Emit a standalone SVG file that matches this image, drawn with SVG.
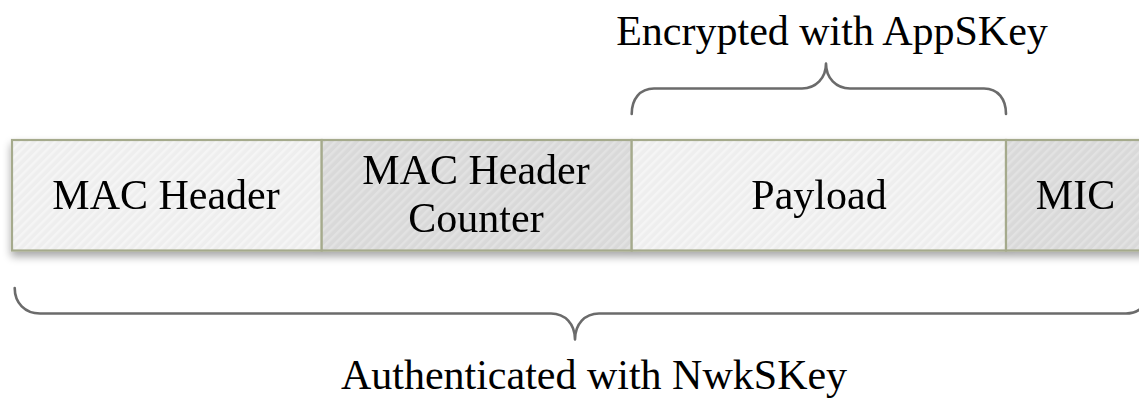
<svg xmlns="http://www.w3.org/2000/svg" width="1139" height="401" viewBox="0 0 1139 401">
  <style>
    .label { font-family: "Liberation Serif", "Times New Roman", serif; font-size: 42px; fill: #000; text-anchor: middle; }
    .field { stroke: #a5aa8c; stroke-width: 2.2; }
    .light { fill: url(#stripeLight); }
    .dark { fill: url(#stripeDark); }
    .brace { fill: none; stroke: #6b6b6b; stroke-width: 2.6; stroke-linecap: round; stroke-linejoin: round; }
  </style>
  <defs>
    <pattern id="stripeLight" width="6" height="6" patternUnits="userSpaceOnUse" patternTransform="rotate(45)">
      <rect width="6" height="6" fill="#eeeeee"/>
      <rect width="2.5" height="6" fill="#f5f5f5"/>
    </pattern>
    <pattern id="stripeDark" width="6" height="6" patternUnits="userSpaceOnUse" patternTransform="rotate(45)">
      <rect width="6" height="6" fill="#d9d9d9"/>
      <rect width="2.5" height="6" fill="#e2e2e2"/>
    </pattern>
    <filter id="dropShadow" x="-5%" y="-20%" width="110%" height="150%">
      <feGaussianBlur in="SourceAlpha" stdDeviation="4"/>
      <feOffset dx="0" dy="5" result="blur"/>
      <feComponentTransfer>
        <feFuncA type="linear" slope="0.35"/>
      </feComponentTransfer>
      <feMerge>
        <feMergeNode/>
        <feMergeNode in="SourceGraphic"/>
      </feMerge>
    </filter>
  </defs>

  <rect width="1139" height="401" fill="#ffffff"/>

  <!-- frame fields -->
  <g filter="url(#dropShadow)">
    <g id="mac-header">
      <rect class="field light" x="12" y="140" width="309.7" height="110.5"/>
      <text class="label" x="166" y="209">MAC Header</text>
    </g>
    <g id="mac-header-counter">
      <rect class="field dark" x="321.7" y="140" width="310" height="110.5"/>
      <text class="label" x="476" y="183.5">MAC Header</text>
      <text class="label" x="476" y="232">Counter</text>
    </g>
    <g id="payload">
      <rect class="field light" x="631.7" y="140" width="374.3" height="110.5"/>
      <text class="label" x="819" y="209">Payload</text>
    </g>
    <g id="mic">
      <rect class="field dark" x="1006" y="140" width="150" height="110.5"/>
      <text class="label" x="1075.5" y="209">MIC</text>
    </g>
  </g>

  <!-- braces marking the covered ranges -->
  <g id="connectors">
    <path class="brace" d="M631.7,114 C631.7,99 640,88.5 654,88.5 L802,88.5 C816,88.5 826,78 826,63.5 C826,78 836,88.5 850,88.5 L984,88.5 C998,88.5 1006,99 1006,114"/>
    <path class="brace" d="M14.7,288 C14.7,303 25,313.5 40,313.5 L551,313.5 C565,313.5 575,324 575,339.5 C575,324 585,313.5 599,313.5 L1126,313.5 C1140,313.5 1150,303 1150,288"/>
  </g>

  <g id="encrypted-label">
    <text class="label" x="832" y="45">Encrypted with AppSKey</text>
  </g>
  <g id="authenticated-label">
    <text class="label" x="594" y="389">Authenticated with NwkSKey</text>
  </g>
</svg>
